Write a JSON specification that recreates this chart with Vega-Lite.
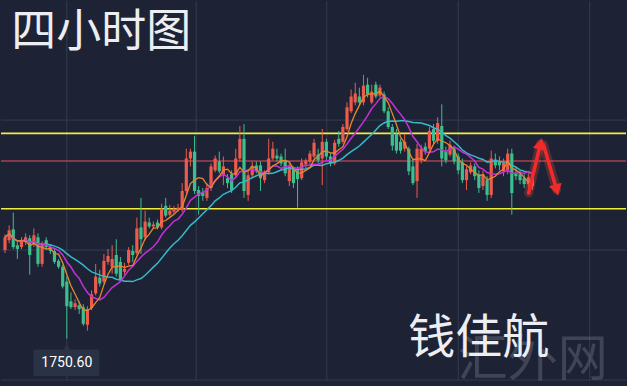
{
"$schema": "https://vega.github.io/schema/vega-lite/v6.json",
"width": 627, "height": 386, "padding": 0,
"autosize": {"type": "fit", "contains": "padding"},
"background": "#1d2335",
"config": {"view": {"stroke": null}, "axis": {"disable": true}},
"datasets": {
"candles": [
{"t":-1,"o":1777.6,"h":1782.4,"l":1776.7,"c":1781.5},
{"t":0,"o":1780.6,"h":1785.1,"l":1779.7,"c":1783.6},
{"t":1,"o":1783.9,"h":1789.0,"l":1777.9,"c":1778.5},
{"t":2,"o":1779.1,"h":1780.0,"l":1774.9,"c":1777.9},
{"t":3,"o":1778.5,"h":1781.5,"l":1777.9,"c":1780.6},
{"t":4,"o":1780.0,"h":1782.7,"l":1779.1,"c":1781.5},
{"t":5,"o":1781.2,"h":1782.1,"l":1770.1,"c":1776.1},
{"t":6,"o":1779.4,"h":1784.2,"l":1778.5,"c":1782.1},
{"t":7,"o":1781.5,"h":1782.7,"l":1772.5,"c":1773.4},
{"t":8,"o":1773.4,"h":1780.3,"l":1772.5,"c":1779.4},
{"t":9,"o":1780.6,"h":1781.5,"l":1777.6,"c":1778.5},
{"t":10,"o":1778.5,"h":1779.4,"l":1776.4,"c":1777.3},
{"t":11,"o":1777.3,"h":1777.9,"l":1773.4,"c":1774.0},
{"t":12,"o":1774.3,"h":1774.9,"l":1771.9,"c":1772.5},
{"t":13,"o":1772.5,"h":1773.1,"l":1765.9,"c":1766.5},
{"t":14,"o":1768.0,"h":1769.5,"l":1750.6,"c":1760.5},
{"t":15,"o":1762.0,"h":1764.7,"l":1759.6,"c":1760.2},
{"t":16,"o":1760.2,"h":1762.6,"l":1759.3,"c":1761.4},
{"t":17,"o":1760.8,"h":1762.0,"l":1758.1,"c":1759.6},
{"t":18,"o":1760.2,"h":1761.1,"l":1754.5,"c":1755.1},
{"t":19,"o":1754.8,"h":1760.5,"l":1753.0,"c":1759.6},
{"t":20,"o":1759.9,"h":1765.3,"l":1759.3,"c":1764.1},
{"t":21,"o":1764.4,"h":1773.4,"l":1763.8,"c":1769.5},
{"t":22,"o":1769.2,"h":1771.6,"l":1766.5,"c":1767.4},
{"t":23,"o":1768.0,"h":1776.4,"l":1767.4,"c":1774.3},
{"t":24,"o":1774.0,"h":1777.9,"l":1773.1,"c":1775.8},
{"t":25,"o":1772.5,"h":1779.1,"l":1770.4,"c":1774.9},
{"t":26,"o":1776.1,"h":1780.9,"l":1769.5,"c":1770.4},
{"t":27,"o":1774.0,"h":1775.5,"l":1768.0,"c":1768.6},
{"t":28,"o":1771.0,"h":1773.7,"l":1770.1,"c":1771.9},
{"t":29,"o":1773.7,"h":1778.5,"l":1773.1,"c":1777.6},
{"t":30,"o":1777.3,"h":1779.1,"l":1774.0,"c":1776.1},
{"t":31,"o":1776.7,"h":1787.5,"l":1776.1,"c":1784.2},
{"t":32,"o":1784.5,"h":1793.5,"l":1776.4,"c":1780.9},
{"t":33,"o":1781.5,"h":1789.6,"l":1780.6,"c":1786.3},
{"t":34,"o":1786.0,"h":1787.5,"l":1784.2,"c":1784.8},
{"t":35,"o":1784.8,"h":1786.3,"l":1784.2,"c":1785.4},
{"t":36,"o":1786.0,"h":1786.9,"l":1783.9,"c":1784.5},
{"t":37,"o":1784.5,"h":1791.7,"l":1783.9,"c":1790.2},
{"t":38,"o":1791.1,"h":1793.5,"l":1787.5,"c":1788.1},
{"t":39,"o":1788.4,"h":1791.4,"l":1787.8,"c":1789.6},
{"t":40,"o":1789.3,"h":1791.1,"l":1788.7,"c":1790.2},
{"t":41,"o":1789.9,"h":1791.7,"l":1789.3,"c":1790.5},
{"t":42,"o":1789.9,"h":1798.0,"l":1789.3,"c":1795.6},
{"t":43,"o":1795.6,"h":1808.5,"l":1795.0,"c":1805.5},
{"t":44,"o":1805.5,"h":1808.5,"l":1803.1,"c":1807.6},
{"t":45,"o":1807.6,"h":1812.4,"l":1794.7,"c":1795.6},
{"t":46,"o":1795.9,"h":1797.1,"l":1788.4,"c":1794.1},
{"t":47,"o":1795.3,"h":1796.5,"l":1792.6,"c":1794.1},
{"t":48,"o":1793.5,"h":1798.0,"l":1792.6,"c":1796.5},
{"t":49,"o":1796.5,"h":1804.0,"l":1795.6,"c":1803.1},
{"t":50,"o":1801.9,"h":1806.4,"l":1801.3,"c":1805.5},
{"t":51,"o":1804.6,"h":1807.6,"l":1801.0,"c":1801.6},
{"t":52,"o":1800.4,"h":1806.1,"l":1797.4,"c":1803.1},
{"t":53,"o":1799.5,"h":1800.7,"l":1796.5,"c":1798.0},
{"t":54,"o":1800.7,"h":1801.9,"l":1795.0,"c":1795.9},
{"t":55,"o":1800.4,"h":1808.5,"l":1799.5,"c":1805.5},
{"t":56,"o":1805.5,"h":1815.4,"l":1804.6,"c":1811.5},
{"t":57,"o":1811.5,"h":1816.0,"l":1793.5,"c":1795.6},
{"t":58,"o":1794.4,"h":1801.9,"l":1792.6,"c":1800.4},
{"t":59,"o":1800.4,"h":1804.6,"l":1799.5,"c":1803.1},
{"t":60,"o":1803.4,"h":1804.6,"l":1801.0,"c":1801.9},
{"t":61,"o":1803.4,"h":1804.6,"l":1795.6,"c":1799.5},
{"t":62,"o":1798.9,"h":1801.9,"l":1798.0,"c":1800.7},
{"t":63,"o":1801.3,"h":1811.5,"l":1800.7,"c":1805.5},
{"t":64,"o":1805.5,"h":1810.6,"l":1804.9,"c":1808.5},
{"t":65,"o":1806.4,"h":1808.5,"l":1804.6,"c":1805.5},
{"t":66,"o":1806.1,"h":1807.0,"l":1803.1,"c":1804.0},
{"t":67,"o":1804.9,"h":1808.5,"l":1800.1,"c":1801.0},
{"t":68,"o":1798.6,"h":1804.0,"l":1797.1,"c":1803.1},
{"t":69,"o":1802.5,"h":1803.1,"l":1796.5,"c":1798.0},
{"t":70,"o":1801.9,"h":1803.1,"l":1790.5,"c":1799.2},
{"t":71,"o":1799.5,"h":1805.5,"l":1798.9,"c":1804.3},
{"t":72,"o":1803.7,"h":1805.5,"l":1802.5,"c":1804.9},
{"t":73,"o":1804.6,"h":1807.9,"l":1803.7,"c":1807.0},
{"t":74,"o":1806.1,"h":1811.5,"l":1805.5,"c":1810.3},
{"t":75,"o":1806.7,"h":1808.5,"l":1804.0,"c":1804.9},
{"t":76,"o":1805.5,"h":1814.5,"l":1797.4,"c":1810.6},
{"t":77,"o":1810.6,"h":1811.5,"l":1804.9,"c":1806.1},
{"t":78,"o":1806.1,"h":1807.0,"l":1803.1,"c":1804.0},
{"t":79,"o":1804.0,"h":1811.2,"l":1803.4,"c":1810.3},
{"t":80,"o":1811.5,"h":1813.9,"l":1809.1,"c":1810.0},
{"t":81,"o":1810.6,"h":1816.0,"l":1810.0,"c":1815.1},
{"t":82,"o":1814.5,"h":1822.6,"l":1813.9,"c":1821.1},
{"t":83,"o":1819.9,"h":1826.5,"l":1819.3,"c":1824.4},
{"t":84,"o":1822.6,"h":1828.6,"l":1821.7,"c":1825.3},
{"t":85,"o":1824.4,"h":1827.1,"l":1821.7,"c":1822.6},
{"t":86,"o":1822.6,"h":1831.0,"l":1821.7,"c":1827.7},
{"t":87,"o":1828.0,"h":1830.1,"l":1824.1,"c":1825.0},
{"t":88,"o":1822.6,"h":1828.0,"l":1822.0,"c":1825.9},
{"t":89,"o":1828.0,"h":1828.9,"l":1823.8,"c":1824.4},
{"t":90,"o":1824.7,"h":1828.0,"l":1824.1,"c":1827.1},
{"t":91,"o":1825.0,"h":1825.9,"l":1819.3,"c":1819.9},
{"t":92,"o":1819.9,"h":1821.1,"l":1814.5,"c":1815.1},
{"t":93,"o":1815.1,"h":1816.0,"l":1807.9,"c":1809.4},
{"t":94,"o":1813.0,"h":1814.5,"l":1807.0,"c":1807.9},
{"t":95,"o":1810.6,"h":1811.5,"l":1807.0,"c":1807.9},
{"t":96,"o":1808.5,"h":1813.0,"l":1807.6,"c":1810.6},
{"t":97,"o":1808.5,"h":1809.1,"l":1800.4,"c":1801.6},
{"t":98,"o":1803.1,"h":1805.5,"l":1797.4,"c":1798.0},
{"t":99,"o":1798.6,"h":1810.0,"l":1793.5,"c":1808.5},
{"t":100,"o":1804.9,"h":1809.7,"l":1804.0,"c":1808.5},
{"t":101,"o":1809.1,"h":1810.3,"l":1806.7,"c":1807.6},
{"t":102,"o":1808.5,"h":1815.1,"l":1807.9,"c":1813.9},
{"t":103,"o":1814.5,"h":1816.0,"l":1810.0,"c":1810.9},
{"t":104,"o":1810.9,"h":1818.1,"l":1810.0,"c":1816.3},
{"t":105,"o":1815.4,"h":1822.0,"l":1803.1,"c":1805.5},
{"t":106,"o":1807.6,"h":1809.1,"l":1804.0,"c":1804.9},
{"t":107,"o":1806.7,"h":1810.9,"l":1806.1,"c":1809.7},
{"t":108,"o":1808.5,"h":1809.4,"l":1803.7,"c":1804.6},
{"t":109,"o":1806.1,"h":1807.0,"l":1800.7,"c":1801.9},
{"t":110,"o":1804.3,"h":1805.5,"l":1798.0,"c":1798.9},
{"t":111,"o":1798.9,"h":1803.1,"l":1795.9,"c":1802.2},
{"t":112,"o":1801.3,"h":1804.3,"l":1800.7,"c":1803.4},
{"t":113,"o":1803.1,"h":1804.0,"l":1798.9,"c":1800.1},
{"t":114,"o":1800.7,"h":1801.9,"l":1795.0,"c":1796.5},
{"t":115,"o":1797.1,"h":1801.9,"l":1795.9,"c":1800.7},
{"t":116,"o":1798.9,"h":1800.1,"l":1792.6,"c":1794.4},
{"t":117,"o":1794.4,"h":1807.9,"l":1793.5,"c":1805.5},
{"t":118,"o":1805.2,"h":1807.0,"l":1802.5,"c":1803.4},
{"t":119,"o":1804.6,"h":1806.1,"l":1801.9,"c":1803.4},
{"t":120,"o":1801.6,"h":1805.5,"l":1800.1,"c":1804.3},
{"t":121,"o":1801.6,"h":1808.5,"l":1800.7,"c":1807.0},
{"t":122,"o":1807.0,"h":1808.5,"l":1788.4,"c":1795.0},
{"t":123,"o":1801.0,"h":1803.1,"l":1798.9,"c":1800.1},
{"t":124,"o":1800.7,"h":1801.9,"l":1797.7,"c":1798.9},
{"t":125,"o":1799.5,"h":1800.7,"l":1796.5,"c":1797.7},
{"t":126,"o":1797.7,"h":1801.0,"l":1796.5,"c":1799.8},
{"t":127,"o":1797.1,"h":1800.7,"l":1795.9,"c":1800.1}
],
"vgrid": [{"t":14},{"t":45.4},{"t":77.1},{"t":109},{"t":140.9}],
"hgrid": [{"p":1817.2},{"p":1777.6},{"p":1738.0}],
"levels": [{"p":1813.15,"k":"resistance"},{"p":1790.2,"k":"support"},{"p":1804.75,"k":"pivot"}],
"arrows": [
{"a":"up","n":0,"t":126.1,"p":1795.0},
{"a":"up","n":1,"t":128.95,"p":1810.0},
{"a":"down","n":0,"t":129.7,"p":1809.7},
{"a":"down","n":1,"t":132.9,"p":1795.9}
],
"heads": [
{"a":"up","t":128.95,"p":1810.0},
{"a":"down","t":132.9,"p":1795.9}
],
"one": [{"id":1}]
},
"layer": [
{"data": {"name": "vgrid"}, "mark": {"type": "rule", "color": "#353b4f", "strokeWidth": 1},
 "encoding": {"x": {"field": "t", "type": "quantitative", "scale": {"domain": [-0.76, 148.5], "nice": false, "zero": false}, "axis": null}}},
{"data": {"name": "hgrid"}, "mark": {"type": "rule", "color": "#353b4f", "strokeWidth": 1},
 "encoding": {"y": {"field": "p", "type": "quantitative", "scale": {"domain": [1737.7, 1853.5], "nice": false, "zero": false}, "axis": null}}},
{"data": {"name": "levels"}, "mark": {"type": "rule"},
 "encoding": {"y": {"field": "p", "type": "quantitative", "scale": {"domain": [1737.7, 1853.5], "nice": false, "zero": false}, "axis": null},
  "color": {"field": "k", "type": "nominal", "scale": {"domain": ["resistance","support","pivot"], "range": ["#f2ef3c","#f2ef3c","#a8414e"]}, "legend": null},
  "strokeWidth": {"field": "k", "type": "nominal", "scale": {"domain": ["resistance","support","pivot"], "range": [1.6,1.6,1]}, "legend": null}}},
{"data": {"name": "candles"}, "mark": {"type": "rule", "strokeWidth": 1, "clip": true},
 "encoding": {"x": {"field": "t", "type": "quantitative", "scale": {"domain": [-0.76, 148.5], "nice": false, "zero": false}, "axis": null},
  "y": {"field": "l", "type": "quantitative", "scale": {"domain": [1737.7, 1853.5], "nice": false, "zero": false}, "axis": null}, "y2": {"field": "h"},
  "color": {"condition": {"test": "datum.c >= datum.o", "value": "#ee5a4c"}, "value": "#3cbf8c"}}},
{"data": {"name": "candles"}, "mark": {"type": "bar", "width": 3.2, "clip": true},
 "encoding": {"x": {"field": "t", "type": "quantitative"},
  "y": {"field": "o", "type": "quantitative"}, "y2": {"field": "c"},
  "color": {"condition": {"test": "datum.c >= datum.o", "value": "#ee5a4c"}, "value": "#3cbf8c"}}},
{"data": {"name": "candles"},
 "transform": [{"window": [{"op": "mean", "field": "c", "as": "ma"}], "frame": [-19, 0], "sort": [{"field": "t"}]}],
 "mark": {"type": "line", "color": "#37b9c9", "strokeWidth": 1.5, "clip": true},
 "encoding": {"x": {"field": "t", "type": "quantitative"}, "y": {"field": "ma", "type": "quantitative"}}},
{"data": {"name": "candles"},
 "transform": [{"window": [{"op": "mean", "field": "c", "as": "ma"}], "frame": [-9, 0], "sort": [{"field": "t"}]}],
 "mark": {"type": "line", "color": "#c530d8", "strokeWidth": 1.5, "clip": true},
 "encoding": {"x": {"field": "t", "type": "quantitative"}, "y": {"field": "ma", "type": "quantitative"}}},
{"data": {"name": "candles"},
 "transform": [{"window": [{"op": "mean", "field": "c", "as": "ma"}], "frame": [-4, 0], "sort": [{"field": "t"}]}],
 "mark": {"type": "line", "color": "#e8882c", "strokeWidth": 1.3, "clip": true},
 "encoding": {"x": {"field": "t", "type": "quantitative"}, "y": {"field": "ma", "type": "quantitative"}}},
{"data": {"name": "arrows"}, "mark": {"type": "line", "color": "#ff4a3a", "strokeWidth": 9, "opacity": 0.25, "strokeCap": "round"},
 "encoding": {"x": {"field": "t", "type": "quantitative"}, "y": {"field": "p", "type": "quantitative"}, "detail": {"field": "a"}, "order": {"field": "n"}}},
{"data": {"name": "arrows"}, "mark": {"type": "line", "color": "#f22a2a", "strokeWidth": 3.5, "strokeCap": "round"},
 "encoding": {"x": {"field": "t", "type": "quantitative"}, "y": {"field": "p", "type": "quantitative"}, "detail": {"field": "a"}, "order": {"field": "n"}}},
{"data": {"name": "heads"}, "mark": {"type": "point", "filled": true, "size": 170, "color": "#f22a2a", "opacity": 1},
 "encoding": {"x": {"field": "t", "type": "quantitative"}, "y": {"field": "p", "type": "quantitative"},
  "shape": {"field": "a", "type": "nominal", "scale": {"domain": ["up","down"], "range": ["triangle-up","triangle-down"]}, "legend": null},
  "angle": {"field": "a", "type": "nominal", "scale": {"domain": ["up","down"], "range": [14, -15]}, "legend": null}}},
{"data": {"name": "one"}, "mark": {"type": "rect", "color": "#2a3246", "cornerRadius": 2},
 "encoding": {"x": {"datum": 5.9, "type": "quantitative"}, "x2": {"datum": 21.9}, "y": {"datum": 1747.3, "type": "quantitative"}, "y2": {"datum": 1739.2}}},
{"data": {"name": "one"}, "mark": {"type": "point", "shape": "triangle-up", "filled": true, "size": 45, "color": "#2a3246", "opacity": 1},
 "encoding": {"x": {"datum": 14, "type": "quantitative"}, "y": {"datum": 1748.2, "type": "quantitative"}}},
{"data": {"name": "one"}, "mark": {"type": "text", "color": "#ffffff", "fontSize": 14, "font": "Roboto", "align": "center", "baseline": "middle"},
 "encoding": {"x": {"datum": 14, "type": "quantitative"}, "y": {"datum": 1743.2, "type": "quantitative"}, "text": {"value": "1750.60"}}},
{"data": {"name": "one"}, "mark": {"type": "text", "color": "#eceef2", "fontSize": 45, "font": "Noto Sans CJK SC", "align": "left", "baseline": "middle"},
 "encoding": {"x": {"datum": 0.5, "type": "quantitative"}, "y": {"datum": 1843.6, "type": "quantitative"}, "text": {"value": "四小时图"}}},
{"data": {"name": "one"}, "mark": {"type": "text", "color": "#6b7080", "opacity": 0.45, "fontSize": 50, "font": "Noto Sans CJK SC", "align": "center", "baseline": "middle"},
 "encoding": {"x": {"datum": 127.1, "type": "quantitative"}, "y": {"datum": 1743.7, "type": "quantitative"}, "text": {"value": "汇外网"}}},
{"data": {"name": "one"}, "mark": {"type": "text", "color": "#eceef2", "fontSize": 47, "font": "Noto Sans CJK SC", "align": "center", "baseline": "middle"},
 "encoding": {"x": {"datum": 114.0, "type": "quantitative"}, "y": {"datum": 1750.4, "type": "quantitative"}, "text": {"value": "钱佳航"}}}
]
}
